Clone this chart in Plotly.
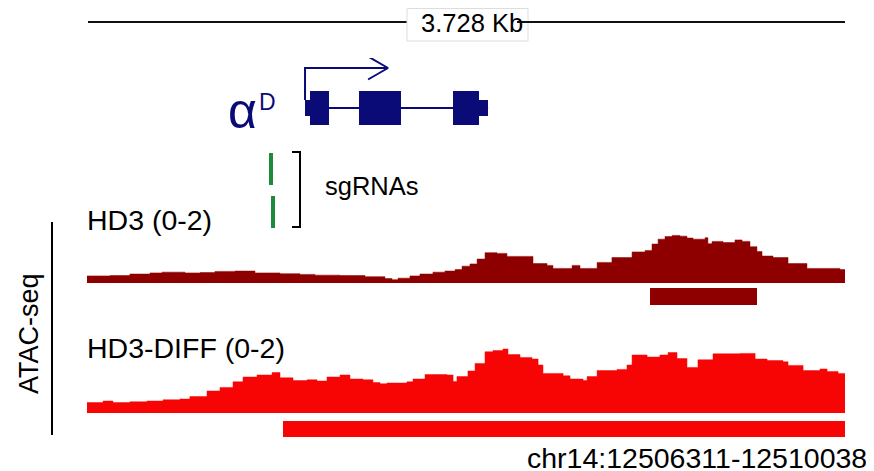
import plotly.graph_objects as go

# ---------------- data ----------------
CHROM = "chr14"
START = 12506311
END = 12510038
SCALE_LABEL = "3.728 Kb"

# HD3 ATAC-seq signal (bin start offsets in bp from START, values 0-2)
hd3_pos = [0, 113, 211, 310, 369, 482, 556, 629, 728, 826, 949, 1047, 1121, 1244, 1367,
           1465, 1500, 1529, 1588, 1637, 1701, 1760, 1810, 1844, 1883, 1918, 1957, 2016,
           2065, 2193, 2262, 2291, 2385, 2424, 2508, 2581, 2680, 2744, 2778, 2808, 2842,
           2877, 2916, 2950, 2980, 3039, 3053, 3073, 3127, 3186, 3221, 3260, 3294, 3319,
           3373, 3447, 3540, 3653, 3702]
hd3_val = [0.19, 0.20, 0.24, 0.27, 0.29, 0.27, 0.28, 0.31, 0.32, 0.27, 0.25, 0.23, 0.21,
           0.20, 0.17, 0.12, 0.09, 0.13, 0.19, 0.24, 0.29, 0.32, 0.36, 0.45, 0.51, 0.64,
           0.81, 0.79, 0.71, 0.52, 0.47, 0.39, 0.47, 0.39, 0.55, 0.68, 0.83, 0.87, 1.04,
           1.17, 1.24, 1.27, 1.25, 1.20, 1.17, 1.21, 1.05, 1.11, 1.08, 1.15, 1.11, 0.97,
           0.84, 0.72, 0.68, 0.52, 0.39, 0.39, 0.36]

# HD3-DIFF ATAC-seq signal
diff_pos = [0, 79, 128, 211, 295, 374, 457, 506, 590, 654, 718, 767, 836, 910, 949, 1013,
            1082, 1131, 1180, 1244, 1293, 1357, 1406, 1441, 1475, 1573, 1603, 1662, 1770,
            1800, 1819, 1873, 1908, 1957, 1996, 2045, 2070, 2129, 2188, 2218, 2242, 2341,
            2375, 2439, 2459, 2508, 2606, 2655, 2680, 2754, 2817, 2857, 2901, 2950, 3004,
            3078, 3211, 3285, 3344, 3422, 3447, 3521, 3604, 3639, 3693]
diff_val = [0.26, 0.30, 0.26, 0.28, 0.30, 0.33, 0.35, 0.41, 0.55, 0.64, 0.78, 0.90, 0.95,
            1.01, 0.88, 0.81, 0.83, 0.80, 0.90, 0.95, 0.85, 0.83, 0.76, 0.73, 0.75, 0.78,
            0.85, 0.96, 0.95, 0.79, 0.91, 1.05, 1.24, 1.53, 1.56, 1.60, 1.46, 1.39, 1.35,
            1.20, 0.99, 0.93, 0.85, 0.81, 0.91, 1.06, 1.09, 1.20, 1.45, 1.40, 1.45, 1.51,
            1.36, 1.14, 1.33, 1.48, 1.49, 1.35, 1.31, 1.28, 1.19, 1.06, 1.10, 1.04, 0.99]

# called peaks (offsets from START)
hd3_peak_start = [2768]
hd3_peak_end = [3294]
diff_peak_start = [964]
diff_peak_end = [3727]

# gene alpha-D: exon parts (offsets), kind: 'utr' or 'cds'
exon_start = [1072, 1096, 1337, 1800, 1927]
exon_end = [1096, 1190, 1544, 1927, 1972]
exon_kind = ["utr", "cds", "cds", "cds", "utr"]
tx_start = 1072
tx_end = 1972
gene_label = "α"
gene_sup = "D"

# sgRNAs (offsets, row)
sg_start = [893, 903]
sg_len = [20, 20]
sg_row = [1, 0]

# ---------------- layout helpers ----------------
# page body has an 8px margin: figure occupies window pixels 8..874 / 8..471
OFF = 8
W, H = 874 - OFF, 471 - OFF
def px(x):
    return (x - OFF) / W
def py(y):
    return 1 - (y - OFF) / H

NAVY = "#0b0b78"
DARKRED = "#8e0000"
RED = "#f70505"
GREEN = "#1f8a3c"
FONT = "Liberation Sans, Arial, Helvetica, sans-serif"

fig = go.Figure()

def step_xy(pos, val):
    xs = [START + p for p in pos] + [END]
    ys = list(val) + [val[-1]]
    return xs, ys

x1, y1 = step_xy(hd3_pos, hd3_val)
fig.add_trace(go.Scatter(x=x1, y=y1, mode="lines", line=dict(shape="hv", width=0.5, color=DARKRED),
                         fill="tozeroy", fillcolor=DARKRED, xaxis="x", yaxis="y"))
x3, y3 = step_xy(diff_pos, diff_val)
fig.add_trace(go.Scatter(x=x3, y=y3, mode="lines", line=dict(shape="hv", width=0.5, color=RED),
                         fill="tozeroy", fillcolor=RED, xaxis="x", yaxis="y3"))

fig.add_trace(go.Bar(orientation="h", base=[START + s for s in hd3_peak_start],
                     x=[e - s for s, e in zip(hd3_peak_start, hd3_peak_end)],
                     y=[0] * len(hd3_peak_start), width=1, marker=dict(color=DARKRED, line=dict(width=0)),
                     xaxis="x", yaxis="y2"))
fig.add_trace(go.Bar(orientation="h", base=[START + s for s in diff_peak_start],
                     x=[e - s for s, e in zip(diff_peak_start, diff_peak_end)],
                     y=[0] * len(diff_peak_start), width=1, marker=dict(color=RED, line=dict(width=0)),
                     xaxis="x", yaxis="y4"))

# gene: intron line, TSS arrow, exons
fig.add_trace(go.Scatter(x=[START + tx_start, START + tx_end], y=[0, 0], mode="lines",
                         line=dict(color=NAVY, width=2), xaxis="x", yaxis="y5"))
ARROW_LEN = 408
HEAD = 98
tss = START + tx_start
tip = tss + ARROW_LEN
fig.add_trace(go.Scatter(x=[tss, tss, tip], y=[0.16, 0.8, 0.8], mode="lines",
                         line=dict(color=NAVY, width=2), xaxis="x", yaxis="y5"))
fig.add_trace(go.Scatter(x=[tip - HEAD, tip, tip - HEAD], y=[1.03, 0.8, 0.57], mode="lines",
                         line=dict(color=NAVY, width=2), xaxis="x", yaxis="y5"))
fig.add_trace(go.Bar(orientation="h", base=[START + s for s in exon_start],
                     x=[e - s for s, e in zip(exon_start, exon_end)],
                     y=[0] * len(exon_start),
                     width=[0.667 if k == "cds" else 0.333 for k in exon_kind],
                     marker=dict(color=NAVY, line=dict(width=0)), xaxis="x", yaxis="y5"))

# sgRNAs
fig.add_trace(go.Bar(orientation="h", base=[START + s for s in sg_start], x=sg_len, y=sg_row,
                     width=0.74, marker=dict(color=GREEN, line=dict(width=0)), xaxis="x", yaxis="y6"))

hidden = dict(visible=False, fixedrange=True)
fig.update_layout(
    width=W, height=H, margin=dict(l=0, r=0, t=0, b=0),
    paper_bgcolor="white", plot_bgcolor="rgba(0,0,0,0)",
    showlegend=False, barmode="overlay", bargap=0,
    xaxis=dict(domain=[px(87), px(845)], range=[START, END], **hidden),
    yaxis=dict(domain=[py(283), py(208)], range=[0, 2], anchor="x", **hidden),
    yaxis2=dict(domain=[py(305), py(288)], range=[-0.5, 0.5], anchor="x", **hidden),
    yaxis3=dict(domain=[py(413), py(333)], range=[0, 2], anchor="x", **hidden),
    yaxis4=dict(domain=[py(437), py(421)], range=[-0.5, 0.5], anchor="x", **hidden),
    yaxis5=dict(domain=[py(158), py(58)], range=[-1, 1], anchor="x", **hidden),
    yaxis6=dict(domain=[py(235), py(145)], range=[-0.535, 1.558], anchor="x", **hidden),
)

shapes = []
# scale bar
shapes.append(dict(type="line", xref="paper", yref="paper", x0=px(88), x1=px(407), y0=py(22), y1=py(22),
                   line=dict(color="#111111", width=2)))
shapes.append(dict(type="rect", xref="paper", yref="paper", x0=px(407), x1=px(528), y0=py(41), y1=py(8.5),
                   fillcolor="white", line=dict(color="#dddddd", width=1)))
shapes.append(dict(type="line", xref="paper", yref="paper", x0=px(517), x1=px(845), y0=py(22), y1=py(22),
                   line=dict(color="#111111", width=2)))
# sgRNA bracket
shapes.append(dict(type="path", xref="paper", yref="paper",
                   path=f"M {px(292)},{py(152)} L {px(300)},{py(152)} L {px(300)},{py(227)} L {px(292)},{py(227)}",
                   line=dict(color="black", width=2)))
# ATAC-seq bar
shapes.append(dict(type="line", xref="paper", yref="paper", x0=px(52), x1=px(52), y0=py(222), y1=py(435),
                   line=dict(color="black", width=2)))
fig.update_layout(shapes=shapes)

def ann(text, x, y, size, color="black", xanchor="left", angle=0, pad=1):
    return dict(text=text, x=px(x), y=py(y), xref="paper", yref="paper", showarrow=False,
                xanchor=xanchor, yanchor="middle", textangle=angle, borderpad=pad,
                font=dict(family=FONT, size=size, color=color))

annotations = [
    ann(SCALE_LABEL, 472, 23, 25.5, xanchor="center"),
    ann(gene_label, 242.5, 111, 50, color=NAVY, xanchor="center"),
    ann(gene_sup, 267.5, 102, 23, color=NAVY, xanchor="center"),
    ann("sgRNAs", 323, 186, 25.5),
    ann("HD3 (0-2)", 85, 220, 28.5),
    ann("HD3-DIFF (0-2)", 85, 348, 28.5),
    ann("ATAC-seq", 29, 334, 27, xanchor="center", angle=-90),
    ann(f"{CHROM}:{START}-{END}", 868, 457.5, 28.5, xanchor="right", pad=0),
]
fig.update_layout(annotations=annotations)

fig.write_html("out.html")
